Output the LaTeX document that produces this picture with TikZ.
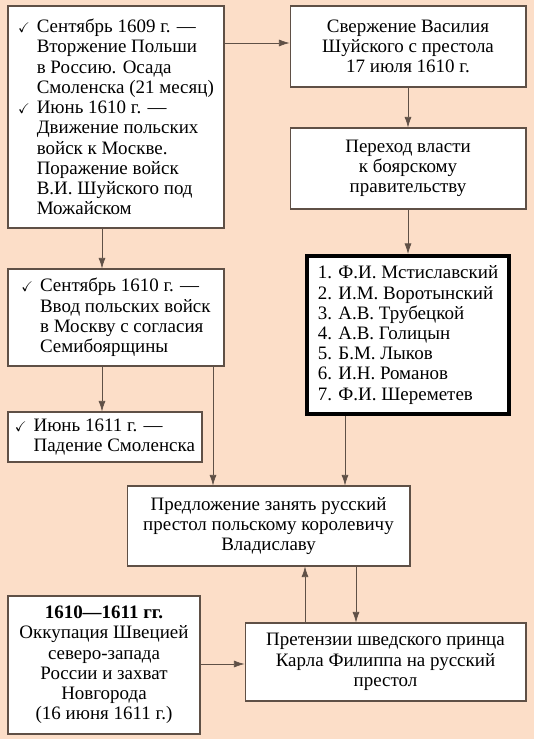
\documentclass[tikz,border=0pt]{standalone}
\usepackage{amssymb}
\usepackage{fontspec}
\setmainfont{Liberation Serif}
\usepackage{tikz}
\usetikzlibrary{arrows.meta}
\definecolor{peach}{RGB}{252,222,200}
\definecolor{lin}{RGB}{95,80,70}
\tikzstyle{block}=[draw=lin, fill=white, rectangle, line width=0.6pt, inner sep=0pt, font=\fontsize{10.8pt}{11.5pt}\selectfont]
\tikzstyle{list}=[block, align=left]
\tikzstyle{note}=[block, align=center]
\def\chk{\makebox[10.6pt][l]{\footnotesize$\checkmark$}}
\def\ind{\hspace*{10.6pt}}

\begin{document}
\begin{tikzpicture}[x=0.02cm, y=-0.02cm, >={Latex[length=6pt,width=4pt]}]
		\fill[peach] (0,0) rectangle (534,739);
		\useasboundingbox (0,0) rectangle (534,739);
		\node[list, minimum width=4.32cm, minimum height=4.44cm] (Inv) at (116,117) {\chk Сентябрь 1609 г. —\\ \ind Вторжение Польши\\ \ind в Россию. Осада\\ \ind Смоленска (21 месяц)\\ \chk Июнь 1610 г. —\\ \ind Движение польских\\ \ind войск к Москве.\\ \ind Поражение войск\\ \ind В.И. Шуйского под\\ \ind Можайском};
		\node[note, minimum width=4.72cm, minimum height=1.62cm] (Shu) at (408,46.5) {Свержение Василия\\ Шуйского с престола\\ 17 июля 1610 г.};
		\node[note, minimum width=4.72cm, minimum height=1.62cm] (Boy) at (408,168.5) {Переход власти\\ к боярскому\\ правительству};
		\node[list, draw=black, line width=2.3pt, minimum width=4.04cm, minimum height=3.16cm] (Sem) at (408,335) {1. Ф.И. Мстиславский\\ 2. И.М. Воротынский\\ 3. А.В. Трубецкой\\ 4. А.В. Голицын\\ 5. Б.М. Лыков\\ 6. И.Н. Романов\\ 7. Ф.И. Шереметев};
		\node[list, minimum width=4.32cm, minimum height=1.94cm] (Mos) at (116,317.5) {\chk Сентябрь 1610 г. —\\ \ind Ввод польских войск\\ \ind в Москву с согласия\\ \ind Семибоярщины};
		\node[list, minimum width=3.88cm, minimum height=1cm] (Smo) at (105,437) {\chk Июнь 1611 г. —\\ \ind Падение Смоленска};
		\node[note, minimum width=5.66cm, minimum height=1.6cm] (Vla) at (268.5,526) {Предложение занять русский\\ престол польскому королевичу\\ Владиславу};
		\node[note, minimum width=5.62cm, minimum height=1.56cm] (Kar) at (385.5,662) {Претензии шведского принца\\ Карла Филиппа на русский\\ престол};
		\node[note, minimum width=3.84cm, minimum height=2.76cm] (Swe) at (104,665) {\textbf{1610—1611 гг.}\\ Оккупация Швецией\\ северо-запада\\ России и захват\\ Новгорода\\ (16 июня 1611 г.)};
		%---------------------
		\coordinate (ya) at (0,43);
		\coordinate (yh) at (0,664);
		\coordinate (xa) at (102,0);
		\coordinate (xb) at (213,0);
		\coordinate (xc) at (345,0);
		\coordinate (xu) at (305,0);
		\coordinate (xd) at (356,0);
		\draw[->, lin] (Inv.east |- ya)--(Shu.west |- ya);
		\draw[->, lin] (Shu)--(Boy);
		\draw[->, lin] (Boy)--(Sem);
		\draw[->, lin] (Inv.south -| xa)--(Mos.north -| xa);
		\draw[->, lin] (Mos.south -| xa)--(Smo.north -| xa);
		\draw[->, lin] (Mos.south -| xb)--(Vla.north -| xb);
		\draw[->, lin] (Sem.south -| xc)--(Vla.north -| xc);
		\draw[->, lin] (Kar.north -| xu)--(Vla.south -| xu);
		\draw[->, lin] (Vla.south -| xd)--(Kar.north -| xd);
		\draw[->, lin] (Swe.east |- yh)--(Kar.west |- yh);
	\end{tikzpicture}
\end{document}
